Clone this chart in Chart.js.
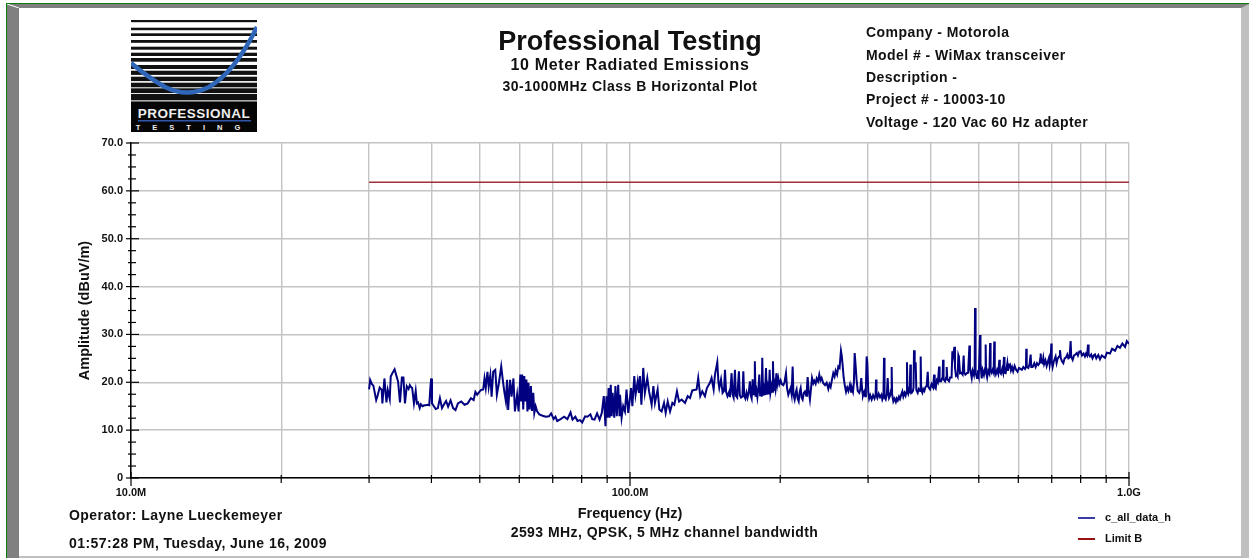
<!DOCTYPE html>
<html>
<head>
<meta charset="utf-8">
<title>Professional Testing</title>
<script src="https://cdn.jsdelivr.net/npm/chart.js@4"></script>
<style>
    html, body { margin: 0; padding: 0; background: #fff; overflow: hidden; }
    body { width: 1249px; height: 558px; position: relative; font-family: "Liberation Sans", Arial, sans-serif; font-weight: bold; color: #111; }
    #chart-box { position: absolute; left: 0; top: 0; width: 1249px; height: 558px; }
    .frame { position: absolute; }
    .label { position: absolute; white-space: nowrap; line-height: 1; }
    .center { transform: translateX(-50%); }
    .info { font-size: 14px; letter-spacing: 0.45px; left: 866px; }
    .foot { font-size: 14px; letter-spacing: 0.45px; }
    .legend-line { position: absolute; width: 17px; height: 2px; }
</style>
</head>
<body>
<!-- window bevel -->
<div class="frame" style="left:6px;top:3px;width:1243px;height:1px;background:#0a7a0a"></div>
<div class="frame" style="left:6px;top:3px;width:1px;height:555px;background:#0a7a0a"></div>
<div class="frame" style="left:7px;top:4px;width:1242px;height:4px;background:#808080"></div>
<div class="frame" style="left:7px;top:4px;width:12px;height:554px;background:#808080"></div>
<div class="frame" style="left:1241px;top:4px;width:8px;height:554px;background:#c0c0c0;clip-path:polygon(100% 0,100% 100%,0 100%,0 4px)"></div>
<div class="frame" style="left:19px;top:556px;width:1230px;height:2px;background:#c0c0c0"></div>
<svg class="frame" style="left:7px;top:4px" width="12" height="4"><line x1="0" y1="0" x2="12" y2="4" stroke="#fff" stroke-width="1"/></svg>

<div id="chart-box"><canvas id="emissions-chart" width="1249" height="558"></canvas></div>

<!-- logo -->
<svg id="logo" style="position:absolute;left:131px;top:20px" width="126" height="112" viewBox="0 0 126 112"></svg>

<!-- header -->
<div class="label center" style="left:630px;top:28px;font-size:27px">Professional Testing</div>
<div class="label center" style="left:630px;top:57px;font-size:16px;letter-spacing:0.65px">10 Meter Radiated Emissions</div>
<div class="label center" style="left:630px;top:79px;font-size:14px;letter-spacing:0.5px">30-1000MHz Class B Horizontal Plot</div>
<div class="label info" style="top:25px">Company - Motorola</div>
<div class="label info" style="top:48px">Model # - WiMax transceiver</div>
<div class="label info" style="top:70px">Description -</div>
<div class="label info" style="top:92px">Project # - 10003-10</div>
<div class="label info" style="top:115px">Voltage - 120 Vac 60 Hz adapter</div>

<!-- footer -->
<div class="label foot" style="left:69px;top:508px">Operator: Layne Lueckemeyer</div>
<div class="label foot" style="left:69px;top:536px">01:57:28 PM, Tuesday, June 16, 2009</div>
<div class="label foot center" style="left:664.5px;top:525px">2593 MHz, QPSK, 5 MHz channel bandwidth</div>

<div id="legend"></div>

<script>
// c_all_data_h (MHz / dBuV/m)
const freq30to40 = [
    30.0, 30.15, 30.4, 30.6, 31.0, 31.2, 31.5, 31.8, 31.9, 32.2,
    32.5, 32.7, 33.0, 33.15, 33.4, 33.75, 34.0, 34.3, 34.6, 34.9,
    35.15, 35.4, 35.7, 36.0, 36.2, 36.4, 36.6, 36.9, 37.2, 37.4,
    37.6, 37.9, 38.1, 38.4, 38.7, 39.0, 39.3, 39.6, 39.8, 39.95];
const amp30to40 = [
    18.5, 20.5, 19.6, 19.3, 16.3, 17.2, 18.9, 18.4, 15.6, 20.8,
    15.8, 18.4, 16.5, 21.2, 21.9, 22.7, 21.5, 20.1, 15.8, 21.0,
    21.0, 15.6, 19.2, 18.6, 19.4, 19.0, 18.8, 15.6, 18.2, 15.6,
    15.8, 14.6, 15.4, 15.0, 15.2, 15.2, 15.3, 15.2, 18.8, 20.8];

const freq40to60 = [
    40.1, 40.4, 40.8, 41.2, 41.6, 42.0, 42.5, 42.8, 43.2, 43.7,
    44.2, 44.7, 45.2, 45.9, 46.6, 47.3, 48.0, 48.6, 49.0, 49.4,
    49.9, 50.3, 50.8, 51.1, 51.4, 51.8, 52.1, 52.5, 52.8, 53.2,
    53.7, 54.1, 54.6, 55.2, 55.6, 56.0, 56.4, 56.7, 57.0, 57.5,
    57.9, 58.4, 58.8, 59.4, 59.8];
const amp40to60 = [
    15.6, 15.1, 14.4, 14.6, 16.7, 14.6, 15.6, 16.1, 14.9, 16.2,
    14.6, 14.2, 15.6, 16.0, 15.3, 15.6, 16.7, 16.3, 18.0, 17.4,
    18.0, 18.4, 18.5, 20.8, 18.8, 22.2, 19.1, 21.5, 17.0, 22.2,
    22.6, 17.4, 19.8, 23.3, 20.5, 18.0, 16.0, 20.5, 14.2, 20.5,
    17.0, 20.8, 13.9, 17.4, 13.9];

const freq60to100 = [
    60.3, 60.5, 60.8, 61.1, 61.4, 61.7, 62.0, 62.3, 62.6, 62.9,
    63.3, 63.6, 64.0, 64.3, 64.7, 65.1, 65.8, 66.8, 67.8, 68.8,
    69.5, 70.3, 70.9, 71.5, 72.6, 73.8, 74.9, 76.0, 76.7, 77.7,
    78.5, 79.4, 80.2, 81.3, 82.2, 83.3, 84.0, 84.9, 85.9, 86.9,
    87.8, 88.6, 89.3, 89.7, 90.1, 90.6, 91.0, 91.5, 91.9, 92.3,
    93.0, 93.5, 94.1, 94.7, 95.3, 95.5, 96.2, 96.9, 97.7, 98.4,
    99.2];
const amp60to100 = [
    21.6, 16.0, 21.6, 14.3, 21.3, 16.0, 20.6, 13.9, 19.9, 14.3,
    19.2, 14.0, 17.8, 13.6, 15.0, 14.0, 13.3, 13.0, 12.8, 12.9,
    13.5, 12.3, 12.8, 11.9, 12.3, 12.8, 12.3, 13.7, 12.2, 12.8,
    11.9, 12.1, 11.6, 12.9, 12.8, 13.3, 12.3, 12.2, 13.5, 12.2,
    13.6, 17.1, 10.8, 17.1, 12.6, 18.8, 12.6, 19.5, 12.9, 17.8,
    12.6, 19.2, 12.9, 19.5, 12.9, 17.4, 12.6, 15.0, 13.9, 18.5,
    13.6];

const freq100to167 = [
    100.5, 101.1, 102.0, 102.6, 103.6, 104.2, 104.7, 105.4, 106.3, 107.1,
    108.3, 109.2, 110.5, 111.4, 112.2, 113.6, 114.5, 115.7, 117.0, 117.9,
    119.0, 120.3, 121.6, 122.7, 124.2, 125.4, 126.9, 128.9, 130.5, 131.9,
    133.3, 136.0, 137.0, 138.3, 139.6, 141.3, 142.6, 144.6, 145.7, 147.1,
    148.0, 149.6, 150.4, 151.0, 152.2, 153.3, 154.3, 155.0, 155.8, 156.8,
    158.0, 158.6, 159.8, 160.5, 161.3, 162.3, 163.0, 164.0, 165.3, 166.0,
    166.9];
const amp100to167 = [
    18.8, 15.0, 21.3, 17.4, 20.2, 17.8, 21.3, 15.3, 23.0, 17.8,
    20.9, 18.1, 15.3, 19.2, 15.7, 18.5, 14.3, 13.9, 15.7, 13.6,
    16.0, 13.9, 15.7, 15.3, 18.1, 16.0, 16.4, 15.7, 17.1, 16.7,
    18.3, 18.5, 20.9, 17.1, 18.1, 17.1, 18.8, 19.9, 20.9, 18.5,
    21.6, 24.2, 20.0, 18.8, 20.6, 17.8, 18.2, 22.6, 18.0, 17.1,
    18.0, 16.9, 21.9, 17.5, 16.8, 22.6, 17.2, 16.8, 22.3, 17.3,
    16.8];

const freq168to209 = [
    168.0, 168.7, 169.4, 170.3, 171.2, 172.0, 173.0, 173.9, 174.6, 175.3,
    176.1, 176.9, 177.4, 177.9, 178.5, 179.3, 180.0, 180.9, 181.6, 182.3,
    183.0, 183.6, 184.1, 184.8, 185.6, 186.4, 187.3, 188.0, 188.9, 189.7,
    190.5, 191.2, 192.2, 192.9, 193.4, 194.1, 194.9, 195.6, 196.5, 197.3,
    198.2, 199.2, 200.4, 201.5, 202.9, 204.0, 205.4, 206.4, 207.6, 209.0];
const amp168to209 = [
    17.0, 22.3, 17.2, 16.6, 17.8, 16.8, 18.0, 20.2, 17.2, 16.6,
    20.6, 17.3, 18.5, 24.4, 17.0, 18.2, 16.9, 19.0, 21.6, 17.3,
    18.4, 17.0, 25.1, 17.2, 18.6, 17.3, 23.0, 17.4, 19.0, 17.5,
    22.6, 17.8, 19.2, 18.0, 24.4, 18.2, 19.6, 18.6, 21.9, 19.6,
    20.9, 19.6, 20.4, 19.6, 19.4, 20.0, 21.9, 18.8, 17.4, 18.3];

const freq210to303 = [
    209.8, 210.8, 211.8, 212.6, 213.8, 215.0, 215.7, 216.7, 217.8, 218.8,
    219.8, 220.8, 221.8, 223.0, 224.2, 225.5, 226.3, 227.0, 228.0, 229.4,
    230.5, 231.6, 233.0, 234.1, 235.5, 236.7, 238.2, 239.5, 240.8, 242.1,
    244.0, 245.9, 247.8, 249.7, 251.0, 252.4, 254.0, 255.5, 257.0, 258.3,
    260.0, 261.5, 263.0, 264.7, 265.7, 266.7, 268.0, 269.6, 271.0, 272.5,
    274.0, 275.9, 277.4, 278.5, 279.8, 281.0, 282.0, 283.0, 284.5, 286.0,
    288.0, 289.5, 290.7, 292.0, 293.0, 294.6, 296.0, 297.0, 298.0, 298.9,
    300.3, 301.5, 303.0];
const amp210to303 = [
    18.8, 17.5, 23.3, 17.5, 16.4, 18.0, 18.5, 16.6, 16.0, 18.0,
    18.8, 16.8, 16.4, 17.8, 18.1, 17.2, 19.0, 21.1, 18.4, 16.4,
    18.6, 20.9, 19.8, 20.3, 19.7, 20.8, 20.2, 21.6, 20.4, 20.9,
    19.8, 19.4, 19.9, 18.6, 19.6, 19.0, 20.6, 21.9, 21.2, 22.4,
    21.6, 23.3, 23.0, 26.6, 25.5, 23.7, 21.0, 19.2, 18.0, 18.9,
    18.2, 19.5, 18.0, 18.7, 18.0, 20.0, 26.1, 24.0, 20.5, 18.2,
    17.8, 18.6, 20.9, 18.2, 17.2, 18.0, 17.1, 19.0, 25.4, 24.0,
    18.0, 16.6, 17.3];

const freq305to400 = [
    305.0, 307.0, 309.0, 310.6, 311.2, 311.9, 313.1, 315.0, 317.0, 319.0,
    320.4, 322.0, 322.9, 323.7, 325.4, 327.2, 328.4, 329.3, 330.4, 332.0,
    333.8, 334.5, 335.2, 337.1, 339.0, 341.0, 342.4, 344.0, 346.0, 347.6,
    349.5, 351.4, 353.0, 355.0, 356.7, 358.3, 359.0, 359.8, 361.0, 362.4,
    363.5, 364.6, 365.5, 366.9, 369.0, 370.0, 370.8, 372.0, 373.7, 374.8,
    377.2, 379.0, 381.5, 382.4, 383.3, 385.4, 387.0, 389.0, 391.0, 393.0,
    395.1, 396.3, 399.3];
const amp305to400 = [
    16.4, 17.3, 16.6, 17.4, 20.6, 17.2, 16.7, 17.6, 16.9, 17.4,
    16.4, 17.0, 25.1, 16.8, 16.4, 17.6, 20.9, 18.0, 16.7, 17.2,
    18.5, 23.2, 17.5, 16.0, 16.6, 15.9, 16.6, 16.2, 17.0, 16.5,
    17.4, 18.1, 17.0, 17.8, 17.2, 18.0, 24.2, 18.0, 17.6, 18.5,
    18.2, 23.7, 18.0, 17.8, 18.2, 19.0, 26.7, 24.0, 24.0, 18.4,
    17.8, 18.6, 18.2, 25.4, 18.4, 17.8, 18.6, 18.2, 19.0, 19.2,
    22.2, 19.0, 18.5];

const freq400to496 = [
    402.0, 405.0, 406.8, 408.0, 409.9, 412.0, 414.0, 416.3, 417.3, 420.2,
    422.0, 423.2, 424.0, 425.0, 428.0, 430.0, 431.2, 432.4, 435.9, 438.0,
    441.0, 442.6, 444.0, 446.8, 448.0, 450.0, 451.6, 453.5, 455.0, 456.2,
    458.5, 461.0, 464.0, 466.3, 467.7, 470.0, 473.0, 476.0, 478.8, 480.0,
    484.0, 486.0, 489.0, 490.6, 491.4, 492.2, 493.2, 495.9];
const amp400to496 = [
    19.6, 18.9, 21.6, 19.0, 18.7, 20.4, 20.0, 23.3, 20.2, 20.2,
    20.8, 21.0, 24.7, 20.6, 20.2, 21.0, 23.2, 20.6, 20.2, 21.0,
    21.0, 26.5, 25.5, 27.4, 23.0, 21.4, 21.6, 21.2, 25.6, 25.2,
    21.9, 22.0, 21.6, 25.6, 22.0, 21.6, 21.9, 22.0, 27.7, 23.0,
    20.9, 22.4, 21.5, 23.0, 35.5, 35.0, 22.0, 20.9];

const freq498to650 = [
    498.0, 500.0, 502.9, 504.0, 506.7, 509.0, 512.0, 515.0, 516.1, 517.2,
    519.6, 522.0, 525.0, 526.8, 528.0, 530.6, 533.0, 535.5, 537.0, 538.3,
    541.0, 544.0, 547.0, 549.7, 551.0, 553.9, 557.0, 559.5, 561.7, 563.0,
    566.0, 568.0, 570.4, 572.0, 574.0, 577.4, 580.0, 583.0, 586.0, 590.0,
    594.0, 598.0, 602.0, 606.0, 610.0, 614.0, 618.8, 621.5, 622.5, 623.8,
    628.4, 632.0, 635.2, 637.0, 641.1, 646.0];
const amp498to650 = [
    22.5, 21.5, 29.9, 24.0, 20.8, 22.5, 21.5, 23.0, 27.9, 22.0,
    21.0, 22.4, 21.8, 28.2, 22.5, 22.0, 22.6, 22.0, 28.5, 22.6,
    21.7, 22.6, 21.8, 24.7, 22.2, 21.8, 22.8, 22.0, 25.3, 22.0,
    21.9, 22.8, 24.0, 22.4, 23.4, 23.7, 22.5, 23.2, 22.3, 23.4,
    22.6, 22.2, 23.0, 22.8, 22.6, 23.2, 22.8, 23.2, 27.0, 23.2,
    23.0, 23.8, 25.8, 23.2, 23.2, 24.0];

const freq650to1000 = [
    650.0, 654.0, 658.0, 662.0, 664.0, 665.2, 667.0, 671.0, 673.4, 676.0,
    680.0, 683.9, 688.0, 691.2, 693.5, 696.5, 698.7, 700.0, 703.0, 707.0,
    712.7, 716.0, 720.0, 724.0, 727.3, 730.0, 734.0, 738.6, 743.0, 748.0,
    752.3, 756.0, 760.0, 763.9, 766.0, 771.1, 776.0, 781.0, 786.0, 790.0,
    795.0, 800.0, 805.0, 811.0, 816.0, 820.0, 824.0, 827.8, 830.0, 835.0,
    840.0, 845.0, 850.0, 854.7, 860.0, 868.0, 874.6, 882.0, 895.0, 903.0,
    916.0, 925.0, 937.7, 948.0, 959.2, 970.0, 981.9, 990.0, 1000.0];
const amp650to1000 = [
    23.2, 24.0, 23.6, 24.0, 25.0, 26.0, 24.2, 24.0, 25.1, 23.8,
    24.6, 23.4, 24.4, 25.1, 23.6, 24.8, 28.1, 24.5, 23.2, 24.4,
    25.4, 24.0, 25.0, 25.4, 26.7, 25.0, 24.4, 24.0, 25.0, 25.2,
    25.8, 25.0, 25.2, 28.6, 25.4, 24.7, 25.6, 25.8, 26.1, 25.6,
    26.4, 26.5, 25.6, 26.0, 25.4, 26.0, 25.6, 27.9, 25.8, 25.4,
    25.8, 25.0, 25.6, 25.8, 25.0, 25.7, 24.8, 25.6, 25.1, 26.2,
    26.0, 27.0, 26.6, 27.6, 27.2, 28.1, 27.4, 28.6, 28.0];

// Limit B
const limitFreq = [30, 1000];
const limitAmp = [61.8, 61.8];

// tick positions
const xTickValues = [10, 20, 30, 40, 50, 60, 70, 80, 90, 100, 200, 300, 400, 500, 600, 700, 800, 900, 1000];
const xTickLabels = { 10: '10.0M', 100: '100.0M', 1000: '1.0G' };
const yMinorTicks = [2.5, 5, 7.5, 12.5, 15, 17.5, 22.5, 25, 27.5, 32.5, 35, 37.5, 42.5, 45, 47.5, 52.5, 55, 57.5, 62.5, 65, 67.5];

const toPoints = (xs, ys) => xs.map((x, i) => ({ x: x, y: ys[i] }));

const dataPoints = [
    ...toPoints(freq30to40, amp30to40),
    ...toPoints(freq40to60, amp40to60),
    ...toPoints(freq60to100, amp60to100),
    ...toPoints(freq100to167, amp100to167),
    ...toPoints(freq168to209, amp168to209),
    ...toPoints(freq210to303, amp210to303),
    ...toPoints(freq305to400, amp305to400),
    ...toPoints(freq400to496, amp400to496),
    ...toPoints(freq498to650, amp498to650),
    ...toPoints(freq650to1000, amp650to1000)
];

const tickFont = { family: '"Liberation Sans", Arial, sans-serif', size: 11, weight: 'bold' };
const titleFont = { family: '"Liberation Sans", Arial, sans-serif', size: 14.5, weight: 'bold' };

// black tick marks that straddle both axes
const axisTicks = {
    id: 'axisTicks',
    afterDraw(chart) {
        const ctx = chart.ctx;
        const xs = chart.scales.x;
        const ys = chart.scales.y;
        const axisY = ys.bottom;
        const axisX = xs.left;
        ctx.save();
        ctx.strokeStyle = '#000';
        ctx.lineWidth = 1.2;
        xTickValues.forEach((v) => {
            const px = xs.getPixelForValue(v);
            const big = xTickLabels[v] !== undefined;
            ctx.beginPath();
            ctx.moveTo(px, axisY - (big ? 6 : 3));
            ctx.lineTo(px, axisY + (big ? 8 : 5));
            ctx.stroke();
        });
        ys.ticks.forEach((t) => {
            const py = ys.getPixelForValue(t.value);
            ctx.beginPath();
            ctx.moveTo(axisX - 5, py);
            ctx.lineTo(axisX + 8, py);
            ctx.stroke();
        });
        yMinorTicks.forEach((v) => {
            const py = ys.getPixelForValue(v);
            ctx.beginPath();
            ctx.moveTo(axisX - 3, py);
            ctx.lineTo(axisX + 5, py);
            ctx.stroke();
        });
        ctx.restore();
    }
};

const emissionsChart = new Chart(document.getElementById('emissions-chart').getContext('2d'), {
    type: 'line',
    data: {
        datasets: [{
            label: 'c_all_data_h',
            data: dataPoints,
            borderColor: '#000080',
            borderWidth: 2,
            pointRadius: 0,
            tension: 0,
            order: 1
        }, {
            label: 'Limit B',
            data: toPoints(limitFreq, limitAmp),
            borderColor: '#a03038',
            borderWidth: 1.5,
            pointRadius: 0,
            tension: 0,
            order: 2
        }]
    },
    options: {
        responsive: false,
        animation: false,
        layout: { padding: { left: 76, right: 120, top: 143, bottom: 35 } },
        plugins: { legend: { display: false }, tooltip: { enabled: false } },
        scales: {
            x: {
                type: 'logarithmic',
                min: 10,
                max: 1000,
                afterBuildTicks: (scale) => {
                    scale.ticks = xTickValues.map((v) => ({ value: v }));
                },
                afterFit: (scale) => { scale.height = 45; },
                grid: { color: '#c4c4c4', lineWidth: 1.4, drawTicks: false },
                border: { color: '#000', width: 1.5 },
                ticks: {
                    autoSkip: false,
                    maxRotation: 0,
                    padding: 8,
                    color: '#111',
                    font: tickFont,
                    callback: (v) => xTickLabels[v] || ''
                },
                title: { display: true, text: 'Frequency (Hz)', color: '#111', font: titleFont, padding: { top: 8, bottom: 0 } }
            },
            y: {
                min: 0,
                max: 70,
                afterFit: (scale) => { scale.width = 55; },
                grid: { color: '#c4c4c4', lineWidth: 1.4, drawTicks: false },
                border: { color: '#000', width: 1.5 },
                ticks: {
                    stepSize: 10,
                    padding: 8,
                    color: '#111',
                    font: tickFont,
                    callback: (v) => (v === 0 ? '0' : v.toFixed(1))
                },
                title: { display: true, text: 'Amplitude (dBuV/m)', color: '#111', font: titleFont, padding: 0 }
            }
        }
    },
    plugins: [axisTicks]
});

// legend in the lower right, taken from the datasets
const legendEl = document.getElementById('legend');
const legendColors = ['#3a3aa8', '#9a1010'];
const legendTops = [517, 538];
emissionsChart.data.datasets.forEach((d, i) => {
    const line = document.createElement('div');
    line.className = 'legend-line';
    line.style.left = '1078px';
    line.style.top = legendTops[i] + 'px';
    line.style.background = legendColors[i];
    legendEl.appendChild(line);
    const text = document.createElement('div');
    text.className = 'label';
    text.style.left = '1105px';
    text.style.top = (legendTops[i] - 5) + 'px';
    text.style.fontSize = '11px';
    text.innerText = d.label;
    legendEl.appendChild(text);
});

// logo: stripes, blue curve, name
const logoEl = document.getElementById('logo');
const stripeTops = [0, 7.7, 13.3, 20, 26.7, 32.7, 38, 45, 50.7, 56.7, 62.7, 68.3, 74];
const stripeHeights = [2.2, 2.5, 2.7, 2.8, 3, 3.3, 3.7, 4, 4.2, 4.4, 4.6, 4.8, 6];
let logoHtml = '<rect x="0" y="0" width="126" height="112" fill="#fff"/>';
stripeTops.forEach((t, i) => {
    logoHtml += `<rect x="0" y="${t}" width="126" height="${stripeHeights[i]}" fill="#111"/>`;
});
logoHtml += '<rect x="0" y="80" width="126" height="1.5" fill="#aaa"/>';
logoHtml += '<rect x="0" y="81.5" width="126" height="30.5" fill="#050505"/>';
logoHtml += '<path d="M0 43 Q 18 58 34 67 Q 56 78 78 67 Q 104 52 126 7" fill="none" stroke="#2f66b8" stroke-width="4.5"/>';
logoHtml += '<text x="63" y="98" text-anchor="middle" font-family="Liberation Sans" font-weight="bold" font-size="13.5" letter-spacing="0.5" fill="#eee">PROFESSIONAL</text>';
logoHtml += '<rect x="7" y="100" width="113" height="1.5" fill="#2f56a8"/>';
logoHtml += '<text x="63" y="110" text-anchor="middle" font-family="Liberation Sans" font-weight="bold" font-size="7.5" letter-spacing="12" fill="#eee">TESTING</text>';
logoEl.innerHTML = logoHtml;
</script>
</body>
</html>
